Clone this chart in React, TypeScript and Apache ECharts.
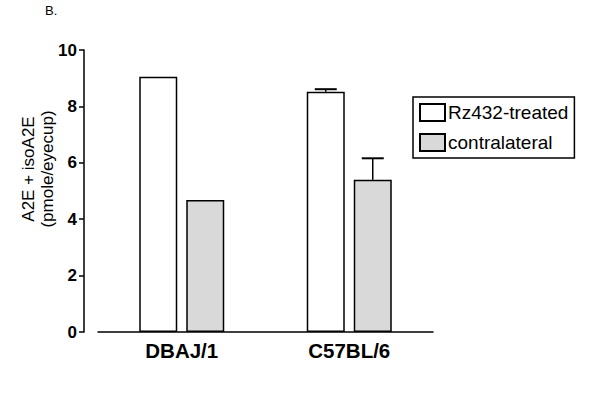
import React, { useEffect, useRef } from "react";
import * as echarts from "echarts";

const categories = ["DBAJ/1", "C57BL/6"];
const treated = [9.05, 8.52];
const contralateral = [4.68, 5.4];
const treatedErr = [0, 0.09];
const contralateralErr = [0, 0.76];
const yTicks = [0, 2, 4, 6, 8, 10];

const FONT = 'Arial, "Liberation Sans", sans-serif';
const BAR_W = 38;
const BAR_GAP = 9;

export default function App() {
  const ref = useRef<HTMLDivElement>(null);
  useEffect(() => {
    if (!ref.current) return;
    const chart = echarts.init(ref.current, undefined, { renderer: "svg" });
    const errData: number[][] = [];
    categories.forEach((_, i) => {
      if (treatedErr[i] > 0) errData.push([i, 0, treated[i], treated[i] + treatedErr[i]]);
      if (contralateralErr[i] > 0)
        errData.push([i, 1, contralateral[i], contralateral[i] + contralateralErr[i]]);
    });
    chart.setOption({
      animation: false,
      backgroundColor: "#fff",
      title: {
        text: "B.",
        left: 45,
        top: 4,
        padding: 0,
        textStyle: { fontFamily: FONT, fontSize: 13, fontWeight: "normal", color: "#000" },
      },
      graphic: [
        {
          type: "text",
          x: 38,
          y: 169,
          rotation: Math.PI / 2,
          style: {
            text: "A2E + isoA2E\n(pmole/eyecup)",
            fontFamily: FONT,
            fontSize: 17,
            lineHeight: 19,
            fill: "#000",
            align: "center",
            verticalAlign: "middle",
          },
        },
      ],
      legend: {
        orient: "vertical",
        left: 413,
        top: 97,
        padding: [6, 6, 6, 6],
        itemGap: 11,
        itemWidth: 25,
        itemHeight: 17,
        icon: "rect",
        borderColor: "#000",
        borderWidth: 1.5,
        data: ["Rz432-treated", "contralateral"],
        textStyle: { fontFamily: FONT, fontSize: 19, color: "#000", padding: [0, 0, 0, -2] },
      },
      grid: { left: 98, right: 167, top: 50, bottom: 78 },
      xAxis: {
        type: "category",
        data: categories,
        axisLine: { lineStyle: { color: "#000", width: 1.5 } },
        axisTick: { alignWithLabel: true, length: 5, lineStyle: { color: "#000", width: 1.5 } },
        axisLabel: {
          fontFamily: FONT,
          fontSize: 20.5,
          fontWeight: "bold",
          color: "#000",
          margin: 8,
        },
      },
      yAxis: {
        type: "value",
        min: 0,
        max: 10,
        interval: 2,
        offset: 14,
        splitLine: { show: false },
        axisLine: { show: true, lineStyle: { color: "#000", width: 1.5 } },
        axisTick: { show: true, length: 5, lineStyle: { color: "#000", width: 1.5 } },
        axisLabel: {
          fontFamily: FONT,
          fontSize: 17,
          fontWeight: "bold",
          color: "#000",
          margin: 7,
          formatter: (v: number) => (yTicks.includes(v) ? String(v) : ""),
        },
      },
      series: [
        {
          name: "Rz432-treated",
          type: "bar",
          data: treated,
          barWidth: BAR_W,
          barGap: `${(BAR_GAP / BAR_W) * 100}%`,
          itemStyle: { color: "#ffffff", borderColor: "#000", borderWidth: 1.5 },
        },
        {
          name: "contralateral",
          type: "bar",
          data: contralateral,
          barWidth: BAR_W,
          itemStyle: { color: "#d9d9d9", borderColor: "#000", borderWidth: 1.5 },
        },
        {
          type: "custom",
          data: errData,
          z: 10,
          renderItem: (params: any, api: any) => {
            const cat = api.value(0);
            const s = api.value(1);
            const lo = api.coord([cat, api.value(2)]);
            const hi = api.coord([cat, api.value(3)]);
            const off = ((s === 0 ? -1 : 1) * (BAR_W + BAR_GAP)) / 2;
            const x = lo[0] + off;
            const capHalf = 11;
            return {
              type: "group",
              children: [
                {
                  type: "line",
                  shape: { x1: x, y1: lo[1], x2: x, y2: hi[1] },
                  style: { stroke: "#000", lineWidth: 1.5 },
                },
                {
                  type: "line",
                  shape: { x1: x - capHalf, y1: hi[1], x2: x + capHalf, y2: hi[1] },
                  style: { stroke: "#000", lineWidth: 2 },
                },
              ],
            };
          },
        },
      ],
    });
    return () => chart.dispose();
  }, []);
  return (
    <div
      ref={ref}
      style={{ position: "absolute", left: 0, top: 0, width: 600, height: 410 }}
    />
  );
}
